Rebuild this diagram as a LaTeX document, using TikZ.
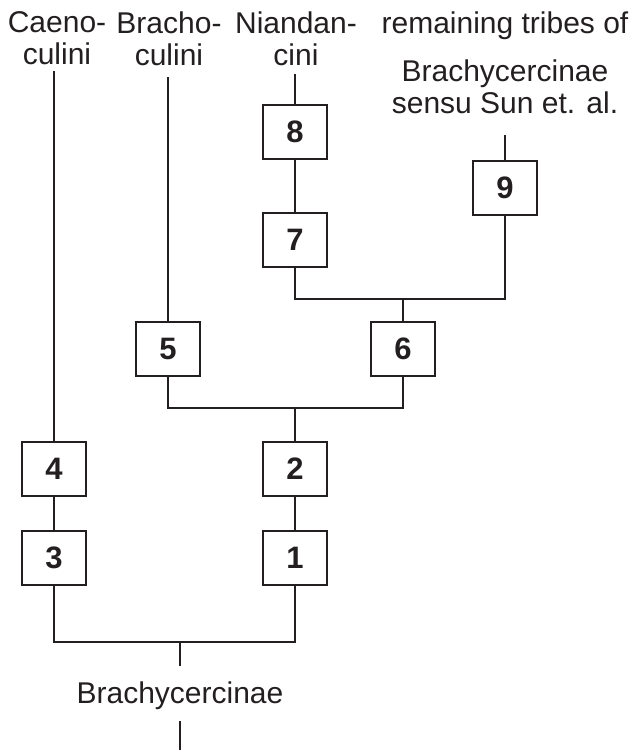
\documentclass[tikz,border=0pt]{standalone}
\usepackage{fontspec}
\setmainfont{Liberation Sans}
\definecolor{ink}{HTML}{231F20}

\begin{document}
\begin{tikzpicture}[x=1pt, y=-1pt, line width=1.8pt, draw=ink,
    taxon/.style={align=center, anchor=north, inner sep=0pt, text=ink,
        font=\fontsize{30}{32}\selectfont},
    char/.style={draw=ink, minimum width=64pt, minimum height=54pt, inner sep=0pt,
        text=ink, font=\fontsize{31}{31}\selectfont\bfseries}]
    \useasboundingbox (0,0) rectangle (635,750);
    % tips of the tree
    \node[taxon] (caeno) at (57,11) {Caeno-\\culini};
    \node[taxon] (bracho) at (169,11) {Bracho-\\culini};
    \node[taxon] (niandan) at (296,11) {Niandan-\\cini};
    \node[taxon] (remain) at (505,11) {remaining tribes of\\[16pt]Brachycercinae\\sensu Sun et. al.};
    % character boxes
    \node[char] (b8) at (295,132) {8};
    \node[char] (b7) at (295,240) {7};
    \node[char] (b9) at (505,188) {9};
    \node[char] (b5) at (168,349) {5};
    \node[char] (b6) at (403,349) {6};
    \node[char] (b4) at (54,469) {4};
    \node[char] (b3) at (54,558) {3};
    \node[char] (b2) at (295,469) {2};
    \node[char] (b1) at (295,558) {1};
    \node[taxon, anchor=base] (root) at (180,703) {Brachycercinae};
    \coordinate (j6) at (403,299);
    \coordinate (j2) at (295,408);
    \coordinate (j0) at (180,642);
    \coordinate (stem) at (180,750);
    % branches
    \draw (b4.north) -- ([yshift=-5pt]b4.north |- caeno.south);
    \draw (b5.north) -- ([yshift=-10pt]b5.north |- bracho.south);
    \draw (b8.north) -- ([yshift=-7pt]b8.north |- niandan.south);
    \draw (b9.north) -- ([yshift=-20pt]b9.north |- remain.south);
    \draw (b8) -- (b7);
    \draw (b4) -- (b3);
    \draw (b2) -- (b1);
    \draw (b7.south) |- (j6) -| (b9.south);
    \draw (j6) -- (b6.north);
    \draw (b5.south) |- (j2) -| (b6.south);
    \draw (j2) -- (b2.north);
    \draw (b3.south) |- (j0) -| (b1.south);
    \draw (j0) -- ([yshift=14pt]root.north);
    \draw ([yshift=-11pt]root.south) -- (stem);
\end{tikzpicture}
\end{document}
